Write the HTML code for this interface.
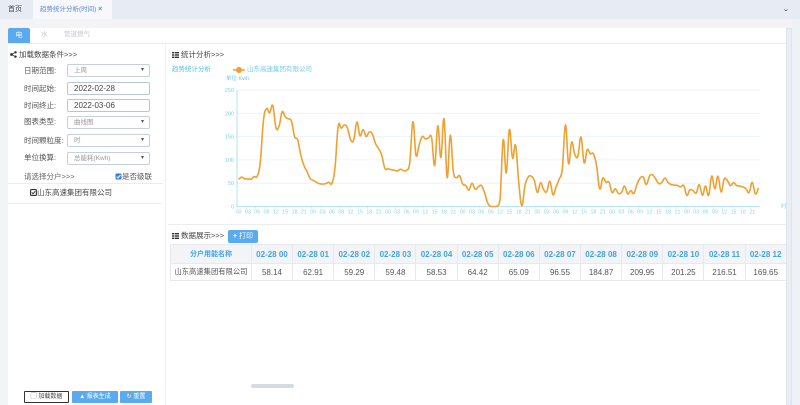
<!DOCTYPE html>
<html><head><meta charset="utf-8">
<style>
*{margin:0;padding:0;box-sizing:border-box}
body{width:800px;height:405px;overflow:hidden;position:relative;background:#f3f4f8;font-family:"Liberation Sans","Noto Sans CJK SC",sans-serif;color:#555}
.a{position:absolute;white-space:nowrap}
.lbl{font-size:7.5px;color:#555;height:10px;line-height:10px}
.box{position:absolute;left:67px;width:83px;height:13px;border:1px solid #c5d0dc;border-radius:2px;background:#fff}
.box span{position:absolute;left:6px;top:0;line-height:11px;font-size:6.5px;color:#999}
.box i{position:absolute;right:5px;top:0;line-height:11px;font-size:6px;color:#555;font-style:normal}
.box b{position:absolute;left:6px;top:0;line-height:11px;font-size:8px;color:#444;font-weight:normal}
.btn{position:absolute;height:11px;line-height:11px;font-size:6px;color:#fff;background:#5aaaf0;border-radius:1px;text-align:center}
table{border-collapse:collapse;table-layout:fixed}
td,th{border:1px solid #e7e9ec;text-align:center;overflow:hidden;white-space:nowrap}
th{background:#f2f4f7;color:#3fa3e0;font-weight:bold;font-size:8px;height:19px}
td{font-size:8px;color:#555;height:17px;background:#fff}
</style></head>
<body>
<!-- top tab bar -->
<div class="a" style="left:0;top:0;width:800px;height:19px;background:#e7ecf4"></div>
<div class="a" style="left:8px;top:5px;font-size:7px;color:#444;line-height:10px">首页</div>
<div class="a" style="left:33px;top:0;width:79px;height:19px;background:#f6f8fc"></div>
<div class="a" style="left:40px;top:5px;font-size:6.5px;color:#5d86cf;line-height:10px">趋势统计分析(时间) <span style="color:#5d86cf;font-size:7px;font-weight:bold">×</span></div>
<div class="a" style="left:783px;top:5px;font-size:7px;color:#556;line-height:10px;transform:scaleX(1.3)">⌄</div>
<div class="a" style="left:0;top:19px;width:800px;height:9px;background:#f4f4f8"></div>
<!-- main white area -->
<div class="a" style="left:8px;top:28px;width:778px;height:377px;background:#fff"></div>
<div class="a" style="left:786px;top:28px;width:6px;height:377px;background:#dde4ee"></div>
<div class="a" style="left:787px;top:29px;width:4px;height:376px;background:#e9eef5;border-radius:2px"></div>
<div class="a" style="left:792px;top:19px;width:8px;height:386px;background:#eef1f6"></div>
<!-- sub tabs -->
<div class="a" style="left:8px;top:28px;width:22px;height:15px;background:#5aaaf0;border-radius:2px 2px 0 0;color:#fff;font-size:7px;line-height:15px;text-align:center">电</div>
<div class="a" style="left:41px;top:30px;font-size:6.5px;color:#c4c8cf;line-height:10px">水</div>
<div class="a" style="left:64px;top:30px;font-size:6.5px;color:#c4c8cf;line-height:10px">管道燃气</div>
<div class="a" style="left:8px;top:43px;width:778px;height:1px;background:#ececec"></div>
<!-- vertical divider -->
<div class="a" style="left:165px;top:44px;width:1px;height:361px;background:#f0f0f0"></div>

<!-- left panel -->
<svg class="a" style="left:10px;top:51px" width="7" height="7" viewBox="0 0 7 7"><circle cx="1.5" cy="3.5" r="1.4" fill="#333"/><circle cx="5.5" cy="1.3" r="1.2" fill="#333"/><circle cx="5.5" cy="5.7" r="1.2" fill="#333"/><path d="M1.5 3.5L5.5 1.3M1.5 3.5L5.5 5.7" stroke="#333" stroke-width=".8"/></svg>
<div class="a" style="left:19px;top:50px;font-size:7.5px;color:#444;line-height:10px">加载数据条件&gt;&gt;&gt;</div>

<div class="a lbl" style="left:24px;top:66px">日期范围:</div>
<div class="box" style="top:64px"><span>上周</span><i>▾</i></div>
<div class="a lbl" style="left:24px;top:84px">时间起始:</div>
<div class="box" style="top:82px;border-color:#b9c6d6"><b>2022-02-28</b></div>
<div class="a lbl" style="left:24px;top:101px">时间终止:</div>
<div class="box" style="top:99px;border-color:#b9c6d6"><b>2022-03-06</b></div>
<div class="a lbl" style="left:24px;top:117px">图表类型:</div>
<div class="box" style="top:116px"><span>曲线图</span><i>▾</i></div>
<div class="a lbl" style="left:24px;top:136px">时间颗粒度:</div>
<div class="box" style="top:134px"><span>时</span><i>▾</i></div>
<div class="a lbl" style="left:24px;top:153px">单位换算:</div>
<div class="box" style="top:152px"><span>总能耗(Kwh)</span><i>▾</i></div>
<div class="a lbl" style="left:24px;top:172px;color:#666">请选择分户&gt;&gt;&gt;</div>
<svg class="a" style="left:115px;top:173px" width="7" height="7"><rect x=".5" y=".5" width="6" height="6" rx="1" fill="#2f7ee0"/><path d="M1.6 3.6L3 5L5.5 2" stroke="#fff" stroke-width="1" fill="none"/></svg>
<div class="a lbl" style="left:122px;top:172px">是否级联</div>
<div class="a" style="left:8px;top:183px;width:155px;height:1px;background:#ececec"></div>
<svg class="a" style="left:30px;top:189px" width="7" height="7"><rect x=".6" y=".6" width="5.8" height="5.8" rx=".8" fill="#fff" stroke="#333" stroke-width="1.1"/><path d="M1.8 3.5L3 4.8L5.3 2.2" stroke="#333" stroke-width="1" fill="none"/></svg>
<div class="a lbl" style="left:37px;top:188px;color:#444">山东高速集团有限公司</div>
<div class="a" style="left:8px;top:203px;width:155px;height:1px;background:#f0f0f0"></div>

<!-- bottom buttons -->
<div class="a" style="left:24px;top:391px;width:45px;height:12px;border:1px solid #333;border-radius:1px;background:#fff;font-size:6px;line-height:10px;text-align:center;color:#444">▢ 加载数据</div>
<div class="btn" style="left:72px;top:391px;width:46px;height:12px;line-height:12px">▲ 报表生成</div>
<div class="btn" style="left:120px;top:391px;width:32px;height:12px;line-height:12px">↻ 重置</div>

<!-- right panel headers -->
<svg class="a" style="left:172px;top:52px" width="7" height="6"><rect x="0" y="0" width="2" height="1.4" fill="#333"/><rect x="2.6" y="0" width="4.4" height="1.4" fill="#333"/><rect x="0" y="2.3" width="2" height="1.4" fill="#333"/><rect x="2.6" y="2.3" width="4.4" height="1.4" fill="#333"/><rect x="0" y="4.6" width="2" height="1.4" fill="#333"/><rect x="2.6" y="4.6" width="4.4" height="1.4" fill="#333"/></svg>
<div class="a" style="left:181px;top:50px;font-size:7.5px;color:#444;line-height:10px">统计分析&gt;&gt;&gt;</div>
<div class="a" style="left:172px;top:65px;font-size:6.5px;color:#58c0ee;line-height:10px">趋势统计分析</div>
<svg class="a" style="left:233px;top:66px" width="12" height="8"><line x1="0" y1="4" x2="12" y2="4" stroke="#f0a030" stroke-width="1.5"/><circle cx="6" cy="4" r="3" fill="#f0a030"/></svg>
<div class="a" style="left:247px;top:65px;font-size:6.5px;color:#74cdf0;line-height:10px">山东高速集团有限公司</div>
<div class="a" style="left:226px;top:74px;font-size:5.5px;color:#74cdf0;line-height:10px">单位:Kwh</div>

<svg id="ch" class="a" style="left:0;top:0" width="800" height="230"></svg>
<div class="a" style="left:168px;top:224px;width:618px;height:1px;background:#ececec"></div>

<!-- data section -->
<svg class="a" style="left:172px;top:233px" width="7" height="6"><rect x="0" y="0" width="2" height="1.4" fill="#333"/><rect x="2.6" y="0" width="4.4" height="1.4" fill="#333"/><rect x="0" y="2.3" width="2" height="1.4" fill="#333"/><rect x="2.6" y="2.3" width="4.4" height="1.4" fill="#333"/><rect x="0" y="4.6" width="2" height="1.4" fill="#333"/><rect x="2.6" y="4.6" width="4.4" height="1.4" fill="#333"/></svg>
<div class="a" style="left:181px;top:231px;font-size:7.5px;color:#444;line-height:10px">数据展示&gt;&gt;&gt;</div>
<div class="btn" style="left:228px;top:230px;width:30px;height:13px;line-height:13px;font-size:7px;border-radius:2px"><b>+</b> 打印</div>

<div class="a" style="left:170px;top:244px;width:616px;height:40px;overflow:hidden">
<table style="width:658px">
<colgroup><col style="width:80px"><col span="14" style="width:40.7px"></colgroup>
<tr><th style="font-size:7px">分户用能名称</th><th>02-28 00</th><th>02-28 01</th><th>02-28 02</th><th>02-28 03</th><th>02-28 04</th><th>02-28 05</th><th>02-28 06</th><th>02-28 07</th><th>02-28 08</th><th>02-28 09</th><th>02-28 10</th><th>02-28 11</th><th>02-28 12</th><th>02-28 13</th></tr>
<tr><td style="font-size:7.3px">山东高速集团有限公司</td><td>58.14</td><td>62.91</td><td>59.29</td><td>59.48</td><td>58.53</td><td>64.42</td><td>65.09</td><td>96.55</td><td>184.87</td><td>209.95</td><td>201.25</td><td>216.51</td><td>169.65</td><td></td></tr>
</table></div>

<!-- horizontal scrollbar -->
<div class="a" style="left:251px;top:384px;width:43px;height:4px;background:#d5dbe3;border-radius:2px"></div>

<script>
(function(){
var d=[58.14,62.91,59.29,59.48,58.53,64.42,65.09,96.55,184.87,209.95,201.25,216.51,169.65,
172,203,192,188,183,150,143,110,88,75,60,
56,52,49,48,49,52,50,85,
172,168,175,168,143,143,181,152,165,150,160,155,135,124,110,82,
81,79,78,76,80,77,78,95,182,110,132,150,145,147,148,88,173,105,188,62,153,75,62,66,
48,45,35,50,37,42,45,30,8,0,0,0,
15,143,72,165,104,131,52,2,45,63,65,56,30,51,36,32,54,25,42,59,81,175,92,138,112,108,149,94,122,113,113,88,38,
61,52,52,30,38,28,30,44,27,34,28,48,61,63,47,65,68,59,49,52,61,51,47,46,45,42,45,24,36,34,29,47,24,44,24,65,38,65,31,59,56,45,51,45,44,42,38,30,52,27,40];
var NS='http://www.w3.org/2000/svg',svg=document.getElementById('ch');
var x0=237,x1=760,y0=206.5,yt=90,n=d.length,cw=(x1-x0)/n;
function el(t,a,txt){var e=document.createElementNS(NS,t);for(var k in a)e.setAttribute(k,a[k]);if(txt!=null)e.textContent=txt;svg.appendChild(e);return e;}
for(var g=0;g<=5;g++){var y=y0-g*(y0-yt)/5;
 if(g>0)el('line',{x1:x0,y1:y,x2:x1,y2:y,stroke:'#e6f2f8','stroke-width':0.8});
 el('text',{x:234,y:y+2,'text-anchor':'end','font-size':'5.5','fill':'#7fd0ee','font-family':'Liberation Sans'},String(g*50));
}
el('line',{x1:x0,y1:yt,x2:x0,y2:y0,stroke:'#9fdaf0','stroke-width':0.8});
el('line',{x1:x0,y1:y0,x2:x1,y2:y0,stroke:'#9fdaf0','stroke-width':0.8});
var hrs=['00','03','06','09','12','15','18','21'];
for(var k=0;k<56;k++){var x=x0+(3*k+0.5)*cw;
 el('line',{x1:x0+3*k*cw,y1:y0,x2:x0+3*k*cw,y2:y0+2,stroke:'#9fdaf0','stroke-width':0.5});
 el('text',{x:x,y:213.5,'text-anchor':'middle','font-size':'5.3','fill':'#8ad4f0','font-family':'Liberation Sans'},hrs[k%8]);
}
el('text',{x:781,y:208,'font-size':'5.5','fill':'#8ad4f0','font-family':'Liberation Sans, Noto Sans CJK SC'},'时');
var p=d.map(function(v,i){return [x0+(i+0.5)*cw,y0-v*(y0-yt)/250];});
var s='M'+p[0][0].toFixed(2)+' '+p[0][1].toFixed(2),kf=0.2;
function cl(y){return Math.min(y0,y);}
for(var i=0;i<n-1;i++){var a=p[i-1]||p[i],b=p[i],c=p[i+1],e=p[i+2]||p[i+1];
 var c1x=b[0]+(c[0]-a[0])*kf,c1y=cl(b[1]+(c[1]-a[1])*kf),c2x=c[0]-(e[0]-b[0])*kf,c2y=cl(c[1]-(e[1]-b[1])*kf);
 s+=' C'+c1x.toFixed(2)+' '+c1y.toFixed(2)+' '+c2x.toFixed(2)+' '+c2y.toFixed(2)+' '+c[0].toFixed(2)+' '+c[1].toFixed(2);}
el('path',{d:s,fill:'none',stroke:'#f0a030','stroke-width':1.6,'stroke-linejoin':'round'});
})();
</script>
</body></html>
